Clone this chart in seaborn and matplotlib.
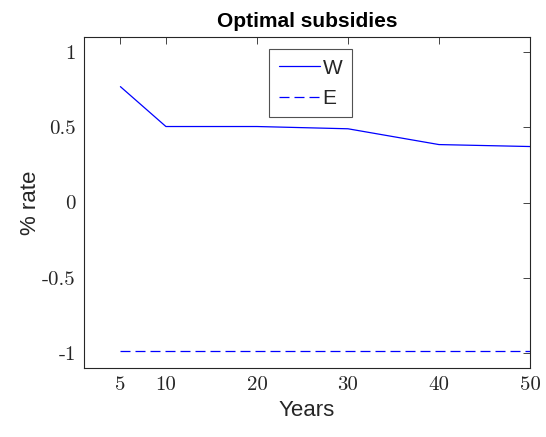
import matplotlib
matplotlib.use("Agg")
import matplotlib.pyplot as plt
import seaborn as sns
import pandas as pd

years = [5, 10, 20, 30, 40, 50]
w_rate = [0.77, 0.505, 0.505, 0.49, 0.385, 0.372]
e_rate = [-0.99, -0.99, -0.99, -0.99, -0.99, -0.99]
xticks = [5, 10, 20, 30, 40, 50]
yticks = [-1, -0.5, 0, 0.5, 1]
ytick_labels = ["-1", "-0.5", "0", "0.5", "1"]

sns.set_style("white")
plt.rcParams['font.family'] = ['Liberation Sans', 'DejaVu Sans']

fig = plt.figure(figsize=(5.46, 4.37), dpi=100)
ax = fig.add_axes([84/546, 1-368/437, (530-84)/546, (368-37)/437])

df = pd.DataFrame({"Years": years + years,
                   "rate": w_rate + e_rate,
                   "series": ["W"] * len(years) + ["E"] * len(years)})

sns.lineplot(data=df[df.series == "W"], x="Years", y="rate", color="#0000ff",
             lw=0.9, ax=ax, label="W")
sns.lineplot(data=df[df.series == "E"], x="Years", y="rate", color="#0000ff",
             lw=0.9, ls=(0, (8, 4)), ax=ax, label="E")

ax.set_xlim(1, 50)
ax.set_ylim(-1.1, 1.1)
ax.set_xticks(xticks)
ax.set_xticklabels([str(t) for t in xticks], fontfamily="cmr10", fontsize=15)
ax.set_yticks(yticks)
ax.set_yticklabels(ytick_labels, fontfamily="cmr10", fontsize=15)
ax.tick_params(direction="in", length=5, width=0.6, color="#262626",
               top=True, right=True, labelcolor="#262626", pad=6)
for s in ax.spines.values():
    s.set_visible(True)
    s.set_color("#262626")
    s.set_linewidth(0.8)

ax.set_xlabel("Years", fontsize=16, color="#262626")
ax.set_ylabel("% rate", fontsize=16, color="#262626", labelpad=1)
ax.set_title("Optimal subsidies", fontsize=15, fontweight="bold", color="black", pad=7)

leg = ax.legend(loc="upper center", bbox_to_anchor=(0.508, 0.963), fontsize=15,
                frameon=True, fancybox=False, edgecolor="#262626",
                handlelength=2.0, handletextpad=0.1, borderpad=0.45,
                labelspacing=0.55, borderaxespad=0)
leg.get_frame().set_linewidth(0.8)

fig.savefig("out.png", dpi=100)
